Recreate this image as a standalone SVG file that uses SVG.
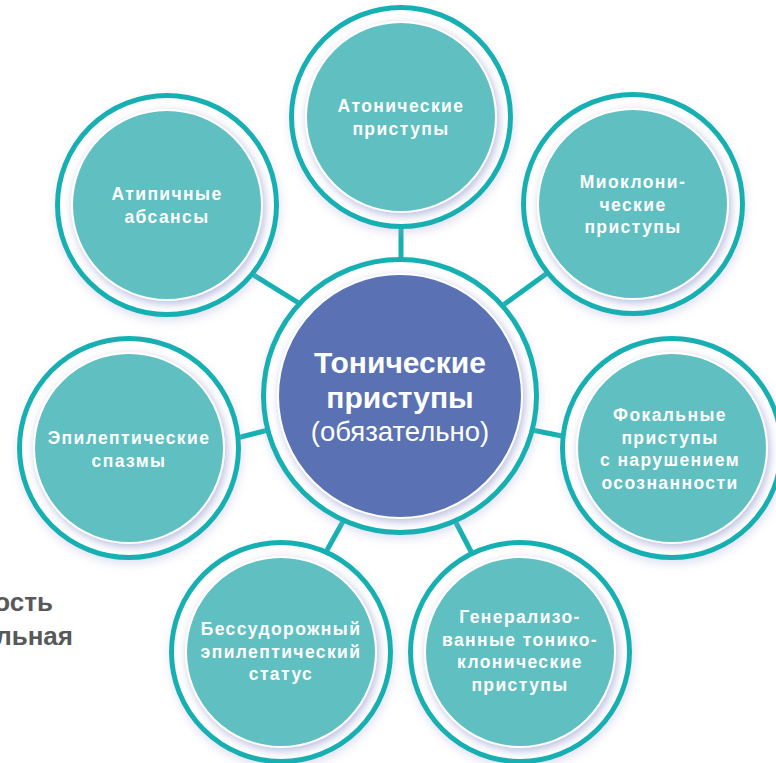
<svg xmlns="http://www.w3.org/2000/svg" width="776" height="763" viewBox="0 0 776 763">
<style>
.bg{fill:#ffffff}
.con{stroke:#15b0b2;stroke-width:5;fill:none}
.ring{fill:#ffffff;stroke:#15b0b2;stroke-width:5;filter:url(#outerSh)}
.inner{fill:#5fbfc1;stroke:#ffffff;stroke-width:2;filter:url(#innerSh)}
.core{fill:#5a71b4;stroke:#ffffff;stroke-width:2;filter:url(#innerSh)}
.t{font-family:"Liberation Sans",Arial,sans-serif;font-weight:bold;font-size:17.5px;fill:#ffffff;text-anchor:middle;letter-spacing:1.4px}
.ct{font-family:"Liberation Sans",Arial,sans-serif;font-weight:bold;font-size:30px;fill:#ffffff;text-anchor:middle}
.cs{font-family:"Liberation Sans",Arial,sans-serif;font-size:27.5px;fill:#ffffff;text-anchor:middle}
.side{font-family:"Liberation Sans",Arial,sans-serif;font-weight:bold;font-size:26px;fill:#58595b;text-anchor:end}
</style>
<defs>
<filter id="innerSh" x="-20%" y="-20%" width="140%" height="140%">
<feDropShadow dx="2" dy="3" stdDeviation="4" flood-color="#8a90cc" flood-opacity="0.6"/>
</filter>
<filter id="outerSh" x="-20%" y="-20%" width="140%" height="140%">
<feDropShadow dx="1" dy="4" stdDeviation="5" flood-color="#a4a9d8" flood-opacity="0.35"/>
</filter>
</defs>
<rect class="bg" x="0" y="0" width="776" height="763"/>
<g id="side-text">
<text class="side" x="53" y="611">ость</text>
<text class="side" x="73" y="645">льная</text>
</g>
<g id="connectors">
<line class="con" x1="401" y1="220" x2="401" y2="265"/>
<line class="con" x1="244" y1="269" x2="310" y2="310"/>
<line class="con" x1="557" y1="266" x2="495" y2="311"/>
<line class="con" x1="225" y1="441" x2="280" y2="427"/>
<line class="con" x1="517" y1="427" x2="577" y2="439"/>
<line class="con" x1="346" y1="516" x2="321" y2="561"/>
<line class="con" x1="452" y1="515" x2="476" y2="561"/>
</g>
<g id="atonic">
<circle class="ring" cx="401" cy="117" r="109.5"/>
<circle class="inner" cx="401" cy="117" r="95"/>
<text class="t" x="401" y="112">Атонические</text>
<text class="t" x="401" y="135">приступы</text>
</g>
<g id="atypical">
<circle class="ring" cx="167" cy="205" r="109.5"/>
<circle class="inner" cx="167" cy="205" r="95"/>
<text class="t" x="167" y="200">Атипичные</text>
<text class="t" x="167" y="223">абсансы</text>
</g>
<g id="myoclonic">
<circle class="ring" cx="633" cy="204" r="109.5"/>
<circle class="inner" cx="633" cy="204" r="95"/>
<text class="t" x="633" y="188">Миоклони-</text>
<text class="t" x="633" y="210.5">ческие</text>
<text class="t" x="633" y="233">приступы</text>
</g>
<g id="spasms">
<circle class="ring" cx="129" cy="448" r="109.5"/>
<circle class="inner" cx="129" cy="448" r="95"/>
<text class="t" x="129" y="444">Эпилептические</text>
<text class="t" x="129" y="467">спазмы</text>
</g>
<g id="focal">
<circle class="ring" cx="672" cy="448" r="109.5"/>
<circle class="inner" cx="672" cy="448" r="95"/>
<text class="t" x="670" y="421">Фокальные</text>
<text class="t" x="670" y="443.5">приступы</text>
<text class="t" x="670" y="466">с нарушением</text>
<text class="t" x="670" y="488.5">осознанности</text>
</g>
<g id="nonconvulsive">
<circle class="ring" cx="281" cy="652" r="109.5"/>
<circle class="inner" cx="281" cy="652" r="95"/>
<text class="t" x="281" y="635">Бессудорожный</text>
<text class="t" x="281" y="657.5">эпилептический</text>
<text class="t" x="281" y="680">статус</text>
</g>
<g id="generalized">
<circle class="ring" cx="520" cy="652" r="109.5"/>
<circle class="inner" cx="520" cy="652" r="95"/>
<text class="t" x="520" y="623">Генерализо-</text>
<text class="t" x="520" y="645.5">ванные тонико-</text>
<text class="t" x="520" y="668">клонические</text>
<text class="t" x="520" y="690.5">приступы</text>
</g>
<g id="tonic">
<circle class="ring" cx="400" cy="396" r="136.5"/>
<circle class="core" cx="400" cy="396" r="122"/>
<text class="ct" x="400" y="373">Тонические</text>
<text class="ct" x="400" y="408">приступы</text>
<text class="cs" x="400" y="441">(обязательно)</text>
</g>
</svg>
